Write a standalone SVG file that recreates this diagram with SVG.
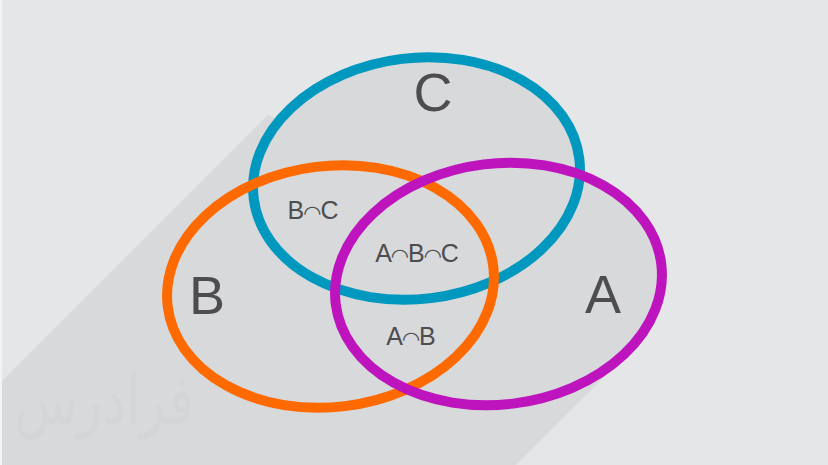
<svg xmlns="http://www.w3.org/2000/svg" width="828" height="465" viewBox="0 0 828 465">
<style>
.e{fill:none;stroke-width:10}
.f{fill:#d8d9db}
.big{font:54px "Liberation Sans",Arial,sans-serif;fill:#4d4d4f;text-anchor:middle}
.small{font:25px "Liberation Sans",Arial,sans-serif;fill:#4d4d4f;text-anchor:middle}
.arc{font-family:"DejaVu Sans",sans-serif;font-size:21px;font-weight:bold}
</style>
<rect width="828" height="465" fill="#e5e6e8"/>
<rect width="2" height="465" fill="#f2f3f4"/>
<path d="M2 381L268 115L416 178L666 282L610 371L516 465H2Z" fill="#d8d9db"/>
<text transform="translate(104 424) scale(1 1.300)" font-family="'DejaVu Sans',sans-serif" font-size="52" fill="#d4d5d7" text-anchor="middle">فرادرس</text>
<g id="node-c"><ellipse class="f" cx="416.500" cy="178.500" rx="164" ry="120.500" transform="rotate(-7 416.500 178.500)"/><ellipse class="f" cx="498.500" cy="284" rx="164" ry="120.500" transform="rotate(-7 498.500 284)"/><ellipse class="e" cx="416.500" cy="178.500" rx="164" ry="120.500" transform="rotate(-7 416.500 178.500)" stroke="#0098bf"/><text class="big" x="433" y="111">C</text></g>
<g id="node-b"><ellipse class="e" cx="330.500" cy="286.500" rx="164" ry="120.500" transform="rotate(-7 330.500 286.500)" stroke="#ff6a00"/><text class="big" x="207" y="314">B</text></g>
<g id="node-a"><ellipse class="e" cx="498.500" cy="284" rx="164" ry="120.500" transform="rotate(-7 498.500 284)" stroke="#bd14bd"/><text class="big" x="603" y="313">A</text></g>
<g id="node-bc"><text class="small" x="313" y="219">B<tspan class="arc" dy="1">◠</tspan><tspan dy="-1">C</tspan></text></g>
<g id="node-abc"><text class="small" x="417" y="262">A<tspan class="arc" dy="1">◠</tspan><tspan dy="-1">B</tspan><tspan class="arc" dy="1">◠</tspan><tspan dy="-1">C</tspan></text></g>
<g id="node-ab"><text class="small" x="411" y="345">A<tspan class="arc" dy="1">◠</tspan><tspan dy="-1">B</tspan></text></g>
<g id="connectors"></g>
</svg>
